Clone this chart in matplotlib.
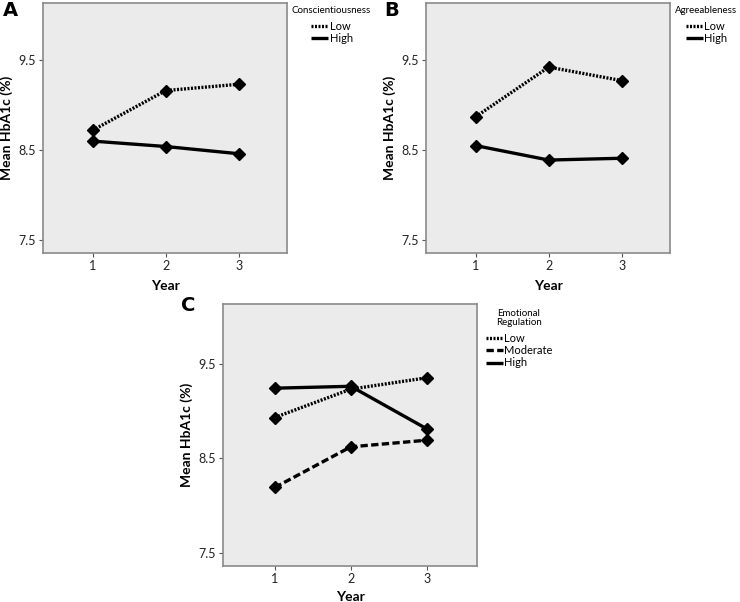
import matplotlib
matplotlib.use("Agg")
import matplotlib.pyplot as plt

plt.rcParams['font.family'] = ['Lato', 'DejaVu Sans']

# data
years = [1, 2, 3]

consc_low = [8.72, 9.16, 9.23]
consc_high = [8.60, 8.54, 8.46]

agree_low = [8.87, 9.42, 9.27]
agree_high = [8.55, 8.39, 8.41]

emo_low = [8.93, 9.23, 9.35]
emo_moderate = [8.19, 8.62, 8.69]
emo_high = [9.24, 9.26, 8.81]

y_ticks = [7.5, 8.5, 9.5]

DOTTED = (0, (0.6, 0.45))
DASHED = (0, (2.2, 1.0))


def style_axis(ax, xpad=6):
    ax.set_facecolor('#ebebeb')
    for s in ax.spines.values():
        s.set_color('#8a8a8a')
        s.set_linewidth(1.2)
    ax.set_xlim(0.32, 3.66)
    ax.set_ylim(7.36, 10.13)
    ax.set_xticks(years)
    ax.set_yticks(y_ticks)
    ax.set_yticklabels(['7.5', '8.5', '9.5'])
    ax.tick_params(axis='both', length=3, width=0.8, color='#555555',
                   labelsize=9, pad=2, labelcolor='#222222')
    ax.set_xlabel('Year', fontsize=10, fontweight='bold', labelpad=xpad)
    ax.set_ylabel('Mean HbA1c (%)', fontsize=10, fontweight='bold', labelpad=4)


def draw(ax, series):
    for vals, ls, lab in series:
        ax.plot(years, vals, color='black', linestyle=ls, linewidth=2.4,
                marker='D', markersize=6.5, label=lab,
                solid_capstyle='butt', dash_capstyle='butt')


def add_legend(ax, x, y):
    leg = ax.legend(loc='upper left', bbox_to_anchor=(x, y), frameon=False,
                    fontsize=8, handlelength=1.5, handletextpad=0.15,
                    labelspacing=0.12, borderaxespad=0, borderpad=0,
                    markerscale=0)
    for h in leg.legend_handles:
        h.set_marker('')
        h.set_linewidth(2.4)
    return leg


fig = plt.figure(figsize=(7.4, 6.02), dpi=100)

axA = fig.add_axes([0.0581, 0.5797, 0.3297, 0.4153])
draw(axA, [(consc_low, DOTTED, 'Low'), (consc_high, '-', 'High')])
style_axis(axA)
axA.text(1.02, 0.988, 'Conscientiousness', transform=axA.transAxes,
         fontsize=7, va='top', ha='left')
add_legend(axA, 1.10, 0.93)

axB = fig.add_axes([0.5757, 0.5797, 0.3297, 0.4153])
draw(axB, [(agree_low, DOTTED, 'Low'), (agree_high, '-', 'High')])
style_axis(axB)
axB.text(1.02, 0.988, 'Agreeableness', transform=axB.transAxes,
         fontsize=7, va='top', ha='left')
add_legend(axB, 1.065, 0.93)

axC = fig.add_axes([0.3014, 0.0598, 0.3432, 0.4352])
draw(axC, [(emo_low, DOTTED, 'Low'), (emo_moderate, DASHED, 'Moderate'),
           (emo_high, '-', 'High')])
style_axis(axC, xpad=4)
axC.text(1.165, 0.98, 'Emotional\nRegulation', transform=axC.transAxes,
         fontsize=7, va='top', ha='center', linespacing=1.0)
add_legend(axC, 1.035, 0.89)

fig.text(0.004, 0.982, 'A', fontsize=14, fontweight='bold', va='center',
         family='DejaVu Sans')
fig.text(0.519, 0.982, 'B', fontsize=14, fontweight='bold', va='center',
         family='DejaVu Sans')
fig.text(0.245, 0.492, 'C', fontsize=14, fontweight='bold', va='center',
         family='DejaVu Sans')

fig.savefig('out.png', dpi=100)
